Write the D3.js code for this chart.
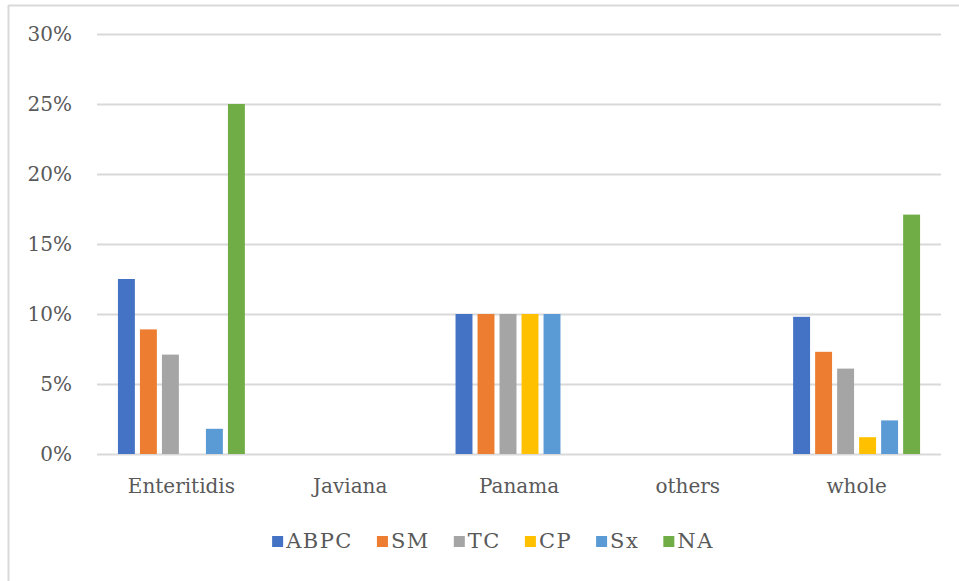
<!DOCTYPE html>
<html>
<head>
<meta charset="utf-8">
<script src="https://cdn.jsdelivr.net/npm/d3@7"></script>
<style>
  html, body { margin: 0; padding: 0; background: #fff; }
</style>
</head>
<body>
<svg id="chart" width="959" height="581"></svg>
<script>
// Serotype groups along the x axis
const categories = ["Enteritidis", "Javiana", "Panama", "others", "whole"];
// Antimicrobial agents (one bar each per group)
const seriesNames = ["ABPC", "SM", "TC", "CP", "Sx", "NA"];
// Resistance rate (%) per agent, in category order
const ABPC = [12.5, 0, 10, 0, 9.8];
const SM   = [8.9, 0, 10, 0, 7.3];
const TC   = [7.1, 0, 10, 0, 6.1];
const CP   = [0, 0, 10, 0, 1.2];
const Sx   = [1.8, 0, 10, 0, 2.4];
const NA   = [25.0, 0, 0, 0, 17.1];
const yTicks = [0, 5, 10, 15, 20, 25, 30];

const seriesValues = { ABPC, SM, TC, CP, Sx, NA };
const colors = {
  ABPC: "#4472C4", SM: "#ED7D31", TC: "#A5A5A5",
  CP: "#FFC000", Sx: "#5B9BD5", NA: "#70AD47"
};
const FONT = "'DejaVu Serif', serif";
const TEXT = "#595959";

const svg = d3.select("#chart");

// Outer chart frame (top and left edges)
svg.append("line").attr("x1", 8.5).attr("x2", 959).attr("y1", 5.5).attr("y2", 5.5)
  .attr("stroke", "#d9d9d9").attr("stroke-width", 2);
svg.append("line").attr("x1", 8.5).attr("x2", 8.5).attr("y1", 5).attr("y2", 581)
  .attr("stroke", "#d9d9d9").attr("stroke-width", 2);

const plot = { left: 97, right: 941, top: 34, bottom: 454 };

const x0 = d3.scaleBand().domain(categories).range([plot.left, plot.right]).padding(0);
const groupW = 132;
const x1 = d3.scaleBand().domain(seriesNames)
  .range([(x0.bandwidth() - groupW) / 2, (x0.bandwidth() + groupW) / 2])
  .paddingInner(0.23).paddingOuter(0.115);
const y = d3.scaleLinear().domain([0, 30]).range([plot.bottom, plot.top]);

// Horizontal gridlines with percent labels
const yAxis = d3.axisLeft(y).tickValues(yTicks)
  .tickSize(-(plot.right - plot.left)).tickPadding(25)
  .tickFormat(d => d + "%");
const gy = svg.append("g").attr("transform", `translate(${plot.left},0)`).call(yAxis)
  .attr("font-family", FONT);
gy.select(".domain").remove();
gy.selectAll(".tick line").attr("stroke", "#d9d9d9").attr("stroke-width", 2);
gy.selectAll(".tick text")
  .attr("font-family", FONT)
  .attr("font-size", 20)
  .attr("fill", TEXT);

// Bars
const groups = svg.append("g").selectAll("g").data(categories).join("g")
  .attr("transform", d => `translate(${x0(d)},0)`);
groups.selectAll("rect")
  .data((c, i) => seriesNames.map(s => ({ s, v: seriesValues[s][i] })))
  .join("rect")
  .attr("x", d => x1(d.s))
  .attr("width", x1.bandwidth())
  .attr("y", d => y(d.v))
  .attr("height", d => y(0) - y(d.v))
  .attr("fill", d => colors[d.s]);

// Category labels
const xAxis = d3.axisBottom(x0).tickSize(0).tickPadding(0);
const gx = svg.append("g").attr("transform", `translate(0,${plot.bottom})`).call(xAxis)
  .attr("font-family", FONT);
gx.select(".domain").remove();
gx.selectAll(".tick text")
  .attr("font-family", FONT)
  .attr("font-size", 20)
  .attr("dy", null).attr("y", 39)
  .attr("fill", TEXT);

// Legend
const legend = svg.append("g");
const items = legend.selectAll("g").data(seriesNames).join("g");
items.append("rect").attr("width", 11).attr("height", 11).attr("y", -12)
  .attr("fill", d => colors[d]);
items.append("text").attr("x", 14).attr("y", 0)
  .attr("font-family", FONT).attr("fill", TEXT)
  .attr("font-size", 21).attr("letter-spacing", "1.5px").text(d => d);
let cx = 0;
const gap = 24;
items.each(function () {
  const w = this.getBBox().width;
  d3.select(this).attr("transform", `translate(${cx},0)`);
  cx += w + gap;
});
const legendW = cx - gap;
legend.attr("transform", `translate(${493 - legendW / 2},548)`);
</script>
</body>
</html>
